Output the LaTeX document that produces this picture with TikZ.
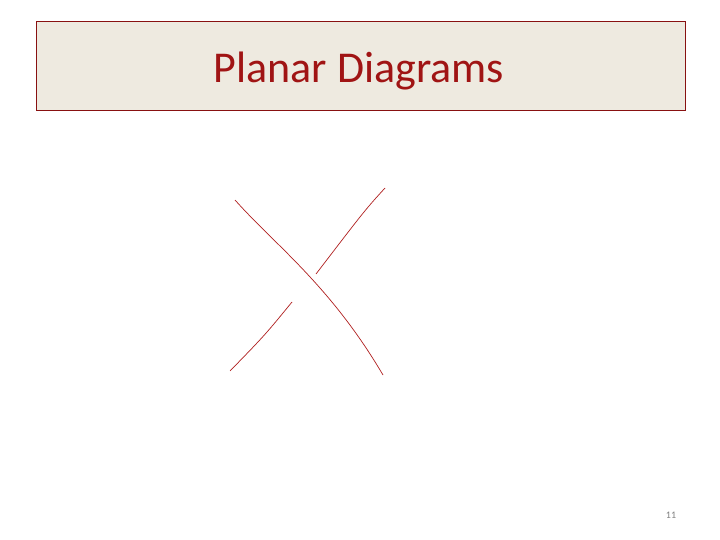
\documentclass[tikz,border=0pt]{standalone}
\usepackage{fontspec}
\setmainfont{Carlito}
\usepackage{tikz}
\definecolor{titlered}{RGB}{160,20,20}
\definecolor{titlebg}{RGB}{238,234,224}
\definecolor{strandred}{RGB}{175,30,30}
\tikzstyle{titlebox}=[draw=titlered!85!black, fill=titlebg, line width=0.8pt, minimum width=649pt, minimum height=89pt, inner sep=0pt]
\tikzstyle{strand}=[draw=strandred, line width=0.7pt]

\begin{document}
\begin{tikzpicture}[x=1pt, y=-1pt]
        \useasboundingbox (0,0) rectangle (720,540);
        \node[titlebox] (T) at (360.5, 65.5) {};
        \node[text=titlered, font=\fontsize{44}{46}\selectfont] (title) at (359, 71) {Planar Diagrams};
        \coordinate (A1) at (235, 200);
        \coordinate (A2) at (383, 375);
        \coordinate (B1) at (385, 188);
        \coordinate (B2) at (316, 274);
        \coordinate (C1) at (292, 302);
        \coordinate (C2) at (230, 371);
        \draw[strand] (A1) .. controls (275, 245) and (330, 285) .. (A2);
        \draw[strand] (B1) .. controls (365, 210) .. (B2);
        \draw[strand] (C1) .. controls (265, 335) .. (C2);
        \node[text=gray, font=\fontsize{10}{11}\selectfont] (page) at (671, 515) {11};
    \end{tikzpicture}
\end{document}
